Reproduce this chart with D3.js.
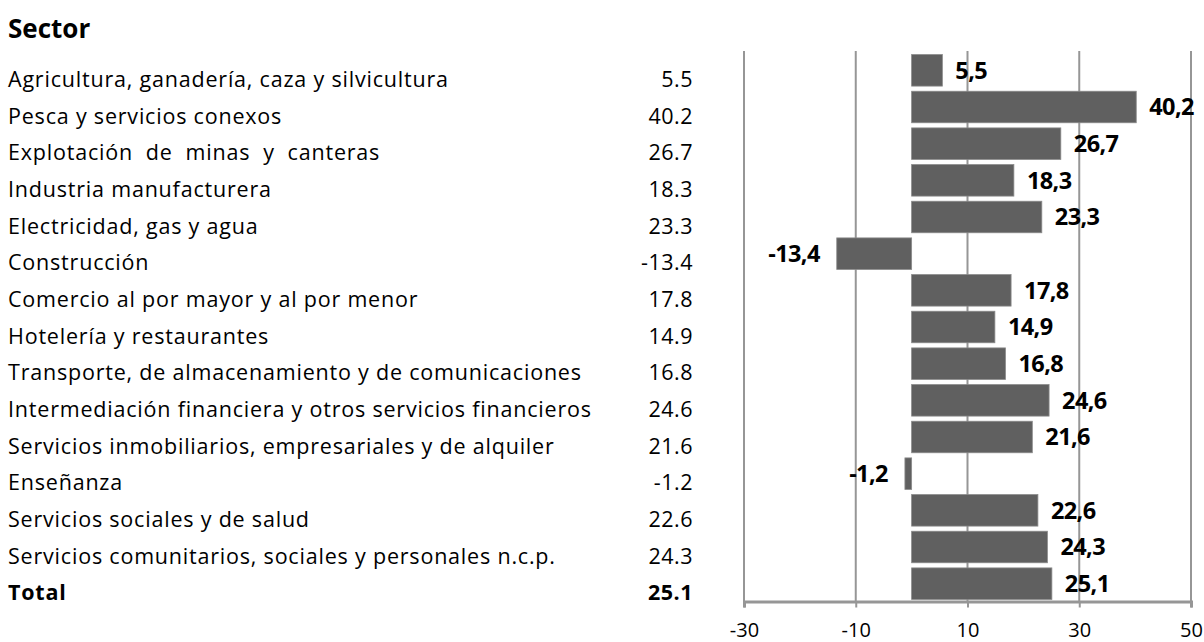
<!DOCTYPE html>
<html>
<head>
<meta charset="utf-8">
<script src="https://cdn.jsdelivr.net/npm/d3@7"></script>
<style>
  body { margin: 0; background: #fff; }
  text { font-family: "Open Sans", Lato, sans-serif; fill: #000; }
</style>
</head>
<body>
<div id="chart"></div>
<script>
// Sector names and growth values
var sectors = [
    "Agricultura, ganadería, caza y silvicultura",
    "Pesca y servicios conexos",
    "Explotación de minas y canteras",
    "Industria manufacturera",
    "Electricidad, gas y agua",
    "Construcción",
    "Comercio al por mayor y al por menor",
    "Hotelería y restaurantes",
    "Transporte, de almacenamiento y de comunicaciones",
    "Intermediación financiera y otros servicios financieros",
    "Servicios inmobiliarios, empresariales y de alquiler",
    "Enseñanza",
    "Servicios sociales y de salud",
    "Servicios comunitarios, sociales y personales n.c.p.",
    "Total"
];
var values = [5.5, 40.2, 26.7, 18.3, 23.3, -13.4, 17.8, 14.9, 16.8, 24.6, 21.6, -1.2, 22.6, 24.3, 25.1];
var xTicks = [-30, -10, 10, 30, 50];

var rows = sectors.map(function (s, i) { return { name: s, value: values[i] }; });

function createChart() {
    var width = 1204, height = 642;
    var plotLeft = 744, plotRight = 1191, plotTop = 52, plotBottom = 602;

    var svg = d3.select("#chart")
        .append("svg")
        .attr("width", width)
        .attr("height", height);

    var x = d3.scaleLinear().domain([-30, 50]).range([plotLeft, plotRight]);
    var y = d3.scaleBand()
        .domain(sectors)
        .range([plotTop, plotBottom])
        .paddingInner(0.14)
        .paddingOuter(0.07);

    // Title
    svg.append("text")
        .attr("x", 8)
        .attr("y", 38)
        .style("font-size", "26px")
        .style("font-weight", "bold")
        .text("Sector");

    // Gridlines
    svg.append("g")
        .selectAll("line")
        .data(xTicks)
        .enter()
        .append("line")
        .attr("x1", function (d) { return x(d); })
        .attr("x2", function (d) { return x(d); })
        .attr("y1", 51)
        .attr("y2", plotBottom)
        .attr("stroke", "#969696")
        .attr("stroke-width", 2);

    // X axis
    var xAxis = svg.append("g")
        .attr("transform", "translate(0," + (plotBottom - 0.5) + ")")
        .call(d3.axisBottom(x).tickValues(xTicks).tickSize(6).tickPadding(15)
            .tickFormat(function (d) { return String(d); }));
    xAxis.select(".domain").attr("stroke", "#969696").attr("stroke-width", 3);
    xAxis.selectAll(".tick line").attr("stroke", "#969696").attr("stroke-width", 2);
    xAxis.selectAll(".tick text")
        .style("font-family", "'Open Sans', sans-serif")
        .style("font-size", "20px")
        .attr("fill", "#000");

    // Left table: names and values
    var table = svg.append("g");
    table.selectAll("text.name")
        .data(rows)
        .enter()
        .append("text")
        .attr("class", "name")
        .attr("x", 8)
        .attr("y", function (d) { return y(d.name) + y.bandwidth() / 2 + 9; })
        .attr("dy", "0.36em")
        .style("font-size", "21.5px")
        .style("letter-spacing", "0.8px")
        .style("font-weight", function (d) { return d.name === "Total" ? "bold" : "normal"; })
        .style("word-spacing", function (d) { return d.name === "Explotación de minas y canteras" ? "6.5px" : null; })
        .text(function (d) { return d.name; });

    table.selectAll("text.val")
        .data(rows)
        .enter()
        .append("text")
        .attr("class", "val")
        .attr("x", 693)
        .attr("y", function (d) { return y(d.name) + y.bandwidth() / 2 + 9; })
        .attr("dy", "0.36em")
        .attr("text-anchor", "end")
        .style("font-size", "21.5px")
        .style("letter-spacing", "0.5px")
        .style("font-weight", function (d) { return d.name === "Total" ? "bold" : "normal"; })
        .text(function (d) { return d.value.toFixed(1); });

    // Bars
    svg.append("g")
        .selectAll("rect")
        .data(rows)
        .enter()
        .append("rect")
        .attr("x", function (d) { return x(Math.min(0, d.value)); })
        .attr("y", function (d) { return y(d.name); })
        .attr("width", function (d) { return Math.abs(x(d.value) - x(0)); })
        .attr("height", y.bandwidth())
        .attr("fill", "#606060")
        .attr("stroke", "#8a8a8a")
        .attr("stroke-width", 0.8);

    // Data labels
    svg.append("g")
        .selectAll("text")
        .data(rows)
        .enter()
        .append("text")
        .attr("x", function (d) { return d.value >= 0 ? x(d.value) + 13 : x(d.value) - 17; })
        .attr("y", function (d) { return y(d.name) + y.bandwidth() / 2; })
        .attr("dy", "0.36em")
        .attr("text-anchor", function (d) { return d.value >= 0 ? "start" : "end"; })
        .style("font-size", "23.5px")
        .style("font-weight", "bold")
        .style("letter-spacing", "-0.6px")
        .text(function (d) { return d.value.toFixed(1).replace(".", ","); });
}

createChart();
</script>
</body>
</html>
